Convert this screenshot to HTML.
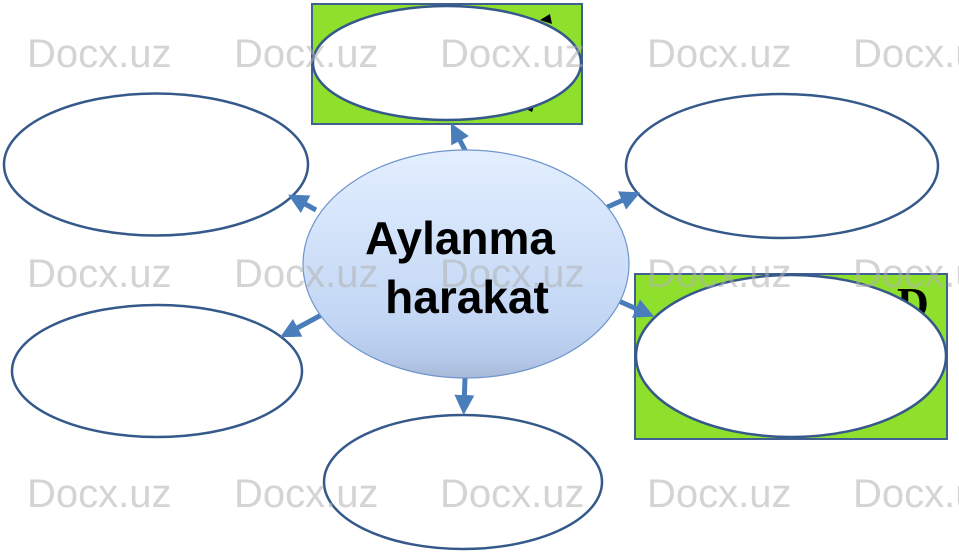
<!DOCTYPE html>
<html><head><meta charset="utf-8"><style>
html,body{margin:0;padding:0;background:#fff;width:959px;height:553px;overflow:hidden}
svg{display:block}
</style></head><body>
<svg width="959" height="553" viewBox="0 0 959 553" xmlns="http://www.w3.org/2000/svg">
<defs>
<linearGradient id="g" x1="0" y1="0" x2="0" y2="1">
<stop offset="0" stop-color="#e3efff"/>
<stop offset="0.75" stop-color="#c2d6f4"/>
<stop offset="0.92" stop-color="#b4c8ea"/>
<stop offset="1" stop-color="#a9b9d6"/>
</linearGradient>
<marker id="a" markerWidth="4" markerHeight="4" refX="2.2" refY="2" orient="auto" markerUnits="strokeWidth">
<path d="M0,0 L4,2 L0,4 Z" fill="#4a7ebb"/>
</marker>
</defs>
<rect x="312" y="4" width="270" height="120" fill="#8fe02c" stroke="#3f6090" stroke-width="2"/>
<rect x="635" y="274" width="312" height="165" fill="#8fe02c" stroke="#3f6090" stroke-width="2"/>
<text x="897" y="318" font-family="Liberation Serif, serif" font-weight="bold" font-size="44" fill="#000">D</text>
<path d="M540,20 l10,-6 l2,10 z M524,108 l10,-2 l-2,6 z" fill="#000"/>
<g fill="#fff" stroke="#35598a" stroke-width="2.5">
<ellipse cx="447" cy="63" rx="134" ry="57"/>
<ellipse cx="156" cy="164.5" rx="152" ry="71"/>
<ellipse cx="782" cy="166" rx="156" ry="72"/>
<ellipse cx="791" cy="356" rx="155" ry="81"/>
<ellipse cx="157" cy="371" rx="145" ry="66"/>
<ellipse cx="463" cy="482" rx="139" ry="67"/>
</g>
<g stroke="#4a7ebb" stroke-width="5" marker-end="url(#a)">
<line x1="466" y1="152" x2="455" y2="131"/>
<line x1="316" y1="210" x2="296" y2="199"/>
<line x1="603" y1="209" x2="632" y2="196"/>
<line x1="325" y1="313" x2="288" y2="333"/>
<line x1="612" y1="298" x2="646" y2="313"/>
<line x1="465" y1="378" x2="464" y2="406"/>
</g>
<ellipse cx="466" cy="264" rx="163" ry="114" fill="url(#g)" stroke="#6f95cc" stroke-width="1.2"/>
<g font-family="Liberation Sans, sans-serif" font-size="40" fill="#b0b0b0" fill-opacity="0.55">
<text x="27" y="67">Docx.uz</text>
<text x="234" y="67">Docx.uz</text>
<text x="440" y="67">Docx.uz</text>
<text x="647" y="67">Docx.uz</text>
<text x="853" y="67">Docx.uz</text>
<text x="27" y="287">Docx.uz</text>
<text x="234" y="287">Docx.uz</text>
<text x="440" y="287">Docx.uz</text>
<text x="647" y="287">Docx.uz</text>
<text x="853" y="287">Docx.uz</text>
<text x="27" y="507">Docx.uz</text>
<text x="234" y="507">Docx.uz</text>
<text x="440" y="507">Docx.uz</text>
<text x="647" y="507">Docx.uz</text>
<text x="853" y="507">Docx.uz</text>
</g>
<g font-family="Liberation Sans, sans-serif" font-weight="bold" font-size="46" fill="#000" text-anchor="middle">
<text x="460" y="254">Aylanma</text>
<text x="467" y="313">harakat</text>
</g>
</svg>
</body></html>
